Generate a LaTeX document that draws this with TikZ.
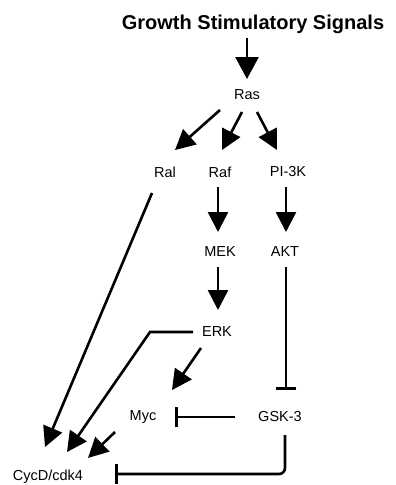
\documentclass[tikz,border=0pt]{standalone}
\usepackage{fontspec}
\setmainfont{Liberation Sans}
\usetikzlibrary{arrows.meta,calc}
\begin{document}
\begin{tikzpicture}[x=1pt,y=-1pt,
  lbl/.style={inner sep=0pt,font=\fontsize{14.5}{16}\selectfont},
  arr/.style={line width=2.6pt,-{Triangle[width=20pt,length=20pt]}},
  inh/.style={line width=2.6pt,-{Bar[width=20pt,line width=2.6pt]}}]
\useasboundingbox (0,0) rectangle (396,485);
\node[inner sep=0pt,font=\fontsize{20}{22}\selectfont\bfseries] (title) at (253,24) {Growth Stimulatory Signals};
\node[lbl] (Ras) at (247,95) {Ras};
\node[lbl] (Ral) at (165,172) {Ral};
\node[lbl] (Raf) at (220,172) {Raf};
\node[lbl] (PI3K) at (288,172) {PI-3K};
\node[lbl] (MEK) at (220,252) {MEK};
\node[lbl] (AKT) at (285,252) {AKT};
\node[lbl] (ERK) at (217,332) {ERK};
\node[lbl] (Myc) at (143,417) {Myc};
\node[lbl] (GSK) at (280,417) {GSK-3};
\node[lbl] (CycD) at (48,477) {CycD/cdk4};
\draw[line width=2.6pt,-{Triangle[width=23pt,length=22pt]}] ($(Ras)+(0,-57)$) -- ($(Ras)+(0,-16)$);
\draw[arr] ($(Ras)+(-27,15)$) -- ($(Ral)+(10,-22)$);
\draw[arr] ($(Ras)+(-5,17)$) -- ($(Raf)+(2,-22)$);
\draw[arr] ($(Ras)+(10,17)$) -- ($(PI3K)+(-11,-22)$);
\draw[arr] ($(Raf)+(-2,15)$) -- ($(MEK)+(-2,-20)$);
\draw[arr] ($(PI3K)+(-2,15)$) -- ($(AKT)+(1,-20)$);
\draw[arr] ($(MEK)+(-2,15)$) -- ($(ERK)+(1,-22)$);
\draw[inh] ($(AKT)+(1,15)$) -- ($(GSK)+(6,-27)$);
\draw[arr] ($(ERK)+(-24,0)$) -- ($(ERK)+(-67,0)$) -- ($(CycD)+(19,-25)$);
\draw[arr] ($(ERK)+(-16,16)$) -- ($(Myc)+(29,-27)$);
\draw[arr] ($(Ral)+(-13,21)$) -- ($(CycD)+(-3,-30)$);
\draw[arr] ($(Myc)+(-28,15)$) -- ($(CycD)+(40,-19)$);
\draw[inh] ($(GSK)+(-45,0)$) -- ($(Myc)+(32,0)$);
\draw[inh,rounded corners=6pt] ($(GSK)+(5,18)$) -- ($(GSK)+(5,57)$) -- ($(CycD)+(67,-3)$);
\end{tikzpicture}
\end{document}
